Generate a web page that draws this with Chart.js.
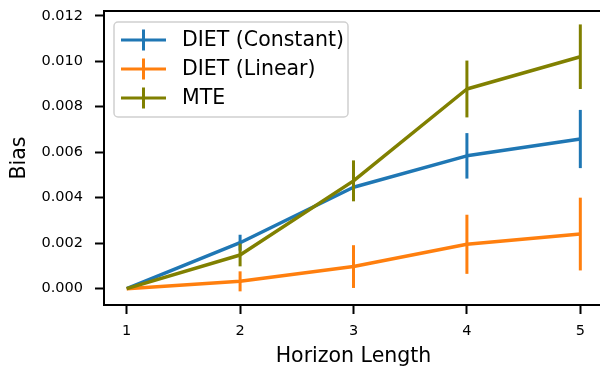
<!DOCTYPE html>
<html>
<head>
<meta charset="utf-8">
<script src="https://cdn.jsdelivr.net/npm/chart.js@4/dist/chart.umd.min.js"></script>
<style>
  html, body { margin: 0; padding: 0; background: #fff; overflow: hidden; }
  #wrap { width: 600px; height: 369px; overflow: hidden; }
  canvas { display: block; }
</style>
</head>
<body>
<div id="wrap"><canvas id="biasChart" width="606" height="369"></canvas></div>
<script>
// horizon lengths on the x axis
const horizons = [1, 2, 3, 4, 5];

// mean bias and error bar half-heights
const constantBias = [0, 0.00202, 0.00446, 0.00584, 0.00658];
const constantErr  = [0, 0.00035, 0.0004, 0.00100, 0.00128];
const linearBias   = [0, 0.00032, 0.00097, 0.00195, 0.00240];
const linearErr    = [0, 0.00044, 0.00094, 0.00130, 0.00160];
const mteBias      = [0, 0.00148, 0.00474, 0.00878, 0.01020];
const mteErr       = [0, 0.00050, 0.00090, 0.00125, 0.00142];

const seriesNames = ['DIET (Constant)', 'DIET (Linear)', 'MTE'];
const xTicks = [1, 2, 3, 4, 5];
const yTicks = [0, 0.002, 0.004, 0.006, 0.008, 0.010, 0.012];

const colors = ['#1f77b4', '#ff7f0e', '#808000'];
const errors = [constantErr, linearErr, mteErr];
const FONT = 'DejaVu Sans';

function points(ys) {
    return horizons.map(function (x, i) { return { x: x, y: ys[i] }; });
}

// vertical error bars, drawn right after each line so stacking matches
const errorBars = {
    id: 'errorBars',
    afterDatasetDraw: function (chart, args) {
        const i = args.index;
        const err = errors[i];
        const ds = chart.data.datasets[i];
        const xs = chart.scales.x, ys = chart.scales.y;
        const ctx = chart.ctx;
        ctx.save();
        ctx.strokeStyle = colors[i];
        ctx.lineWidth = 3;
        ds.data.forEach(function (p, j) {
            if (!err[j]) return;
            const px = xs.getPixelForValue(p.x);
            ctx.beginPath();
            ctx.moveTo(px, ys.getPixelForValue(p.y - err[j]));
            ctx.lineTo(px, ys.getPixelForValue(p.y + err[j]));
            ctx.stroke();
        });
        ctx.restore();
    }
};

// top frame line (right spine falls outside the picture) plus legend box
const frameAndLegend = {
    id: 'frameAndLegend',
    afterDraw: function (chart) {
        const ctx = chart.ctx;
        const a = chart.chartArea;
        ctx.save();
        ctx.strokeStyle = '#000';
        ctx.lineWidth = 2;
        ctx.beginPath();
        ctx.moveTo(a.left - 1, a.top);
        ctx.lineTo(chart.width, a.top);
        ctx.stroke();

        const bx = 114, by = 22, bw = 234, bh = 95;
        ctx.fillStyle = 'rgba(255,255,255,0.8)';
        ctx.strokeStyle = '#d0d0d0';
        ctx.lineWidth = 1.5;
        ctx.beginPath();
        ctx.roundRect(bx, by, bw, bh, 4);
        ctx.fill();
        ctx.stroke();

        const rows = [40, 69, 98];
        ctx.font = '20.5px "' + FONT + '"';
        ctx.textBaseline = 'middle';
        ctx.textAlign = 'left';
        seriesNames.forEach(function (name, i) {
            const cy = rows[i];
            ctx.strokeStyle = colors[i];
            ctx.lineWidth = 3;
            ctx.beginPath();
            ctx.moveTo(121, cy);
            ctx.lineTo(166, cy);
            ctx.moveTo(143.5, cy - 10.5);
            ctx.lineTo(143.5, cy + 10.5);
            ctx.stroke();
            ctx.fillStyle = '#000';
            ctx.fillText(name, 182, cy + 1);
        });
        ctx.restore();
    }
};

const ctx = document.getElementById('biasChart').getContext('2d');
const chart = new Chart(ctx, {
    type: 'line',
    data: {
        datasets: [
            { label: seriesNames[0], data: points(constantBias), borderColor: colors[0], borderWidth: 3.5, order: 3 },
            { label: seriesNames[1], data: points(linearBias), borderColor: colors[1], borderWidth: 3.5, order: 2 },
            { label: seriesNames[2], data: points(mteBias), borderColor: colors[2], borderWidth: 3.5, order: 1 }
        ]
    },
    options: {
        responsive: false,
        animation: false,
        layout: { padding: { top: 11, right: 3, left: 0, bottom: 0 } },
        elements: {
            line: { tension: 0, borderJoinStyle: 'round', fill: false },
            point: { radius: 0, hoverRadius: 0 }
        },
        plugins: {
            legend: { display: false },
            tooltip: { enabled: false }
        },
        scales: {
            x: {
                type: 'linear',
                min: 0.8,
                max: 5.2,
                afterBuildTicks: function (scale) {
                    scale.ticks = xTicks.map(function (v) { return { value: v }; });
                },
                afterFit: function (scale) {
                    scale.height = 64;
                    scale.paddingLeft = 0;
                    scale.paddingRight = 0;
                },
                ticks: {
                    color: '#000',
                    font: { family: FONT, size: 14.5 },
                    padding: 9,
                    maxRotation: 0,
                    autoSkip: false,
                    callback: function (v) { return String(v); }
                },
                grid: { drawOnChartArea: false, tickLength: 9, tickWidth: 2, tickColor: '#000' },
                border: { color: '#000', width: 2 },
                title: {
                    display: true,
                    text: 'Horizon Length',
                    color: '#000',
                    font: { family: FONT, size: 20.5 },
                    padding: { top: 0, bottom: 0 }
                }
            },
            y: {
                min: -0.00072,
                max: 0.01221,
                afterBuildTicks: function (scale) {
                    scale.ticks = yTicks.map(function (v) { return { value: v }; });
                },
                afterFit: function (scale) {
                    scale.width = 104;
                    scale.paddingTop = 0;
                    scale.paddingBottom = 0;
                },
                ticks: {
                    color: '#000',
                    font: { family: FONT, size: 14.5 },
                    padding: 12,
                    callback: function (v) { return Number(v).toFixed(3); }
                },
                grid: { drawOnChartArea: false, tickLength: 9, tickWidth: 2, tickColor: '#000' },
                border: { color: '#000', width: 2 },
                title: {
                    display: true,
                    text: 'Bias',
                    color: '#000',
                    font: { family: FONT, size: 20.5 },
                    padding: { top: 7, bottom: 0 }
                }
            }
        }
    },
    plugins: [errorBars, frameAndLegend]
});
</script>
</body>
</html>
